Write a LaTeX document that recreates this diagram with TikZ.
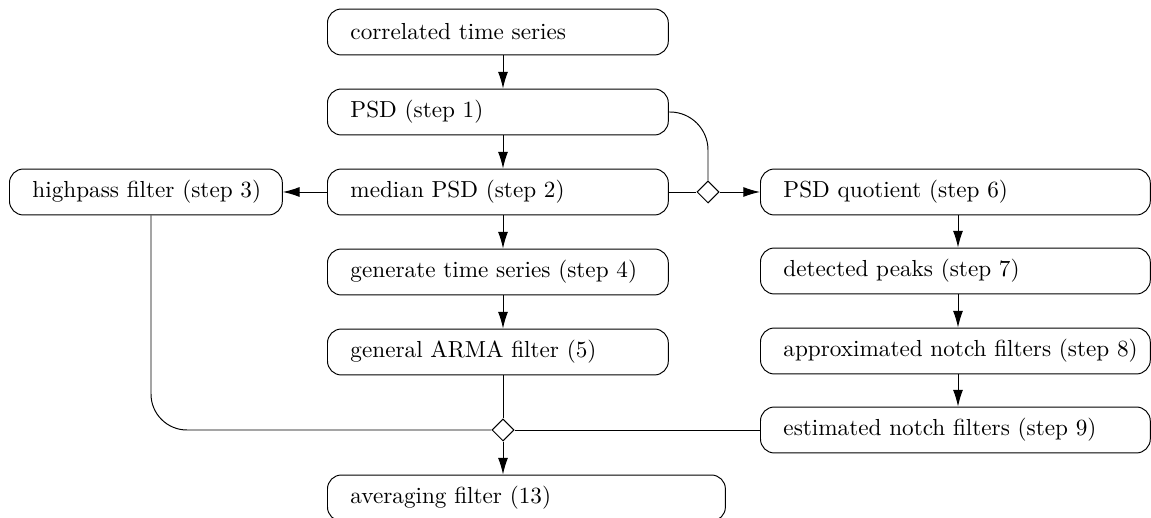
\documentclass[tikz,border=0pt]{standalone}
\usetikzlibrary{arrows.meta,shapes.geometric}
\begin{document}
\begin{tikzpicture}[x=0.431pt,y=-0.431pt,
  box/.style={draw,rounded corners=6pt,minimum height=19.8pt,inner xsep=9.9pt,inner ysep=0pt,anchor=west,align=left,font=\normalsize},
  lbox/.style={box,text width=127.1pt},
  rbox/.style={box,text width=148.2pt},
  dia/.style={draw,diamond,fill=white,minimum width=9.5pt,minimum height=9.5pt,inner sep=0pt},
  arr/.style={-{Latex[length=7.2pt,width=4.3pt]}},
  line width=0.42pt]
\useasboundingbox (0,0) rectangle (1151,518);
\coordinate (lx) at (503,0);
\coordinate (rx) at (958,0);
\coordinate (hx) at (151,0);
\node[lbox] (corr) at (327,32) {correlated time series};
\node[lbox] (psd) at (327,112) {PSD (step 1)};
\node[lbox] (med) at (327,192) {median PSD (step 2)};
\node[lbox] (gen) at (327,272) {generate time series (step 4)};
\node[lbox] (arma) at (327,352) {general ARMA filter (5)};
\node[box,text width=151.7pt] (avg) at (327,498) {averaging filter (13)};
\node[box,text width=97.8pt] (hp) at (9,192) {\mbox{highpass filter (step 3)}};
\node[rbox] (quot) at (760,192) {PSD quotient (step 6)};
\node[rbox] (peak) at (760,271) {detected peaks (step 7)};
\node[rbox] (appr) at (760,351) {\mbox{approximated notch filters (step 8)}};
\node[rbox] (est) at (760,430) {estimated notch filters (step 9)};
\node[dia] (d1) at (708,192) {};
\node[dia] (d2) at (503,430) {};
\draw[arr] (corr.south -| lx) -- (psd.north -| lx);
\draw[arr] (psd.south -| lx) -- (med.north -| lx);
\draw[arr] (med.south -| lx) -- (gen.north -| lx);
\draw[arr] (gen.south -| lx) -- (arma.north -| lx);
\draw (arma.south -| lx) -- (d2.north);
\draw[arr] (d2.south) -- (avg.north -| lx);
\draw[rounded corners=15.5pt] (hp.south -| hx) |- (d2.west);
\draw (est.west) -- (d2.east);
\draw[arr] (med.west) -- (hp.east);
\draw (med.east) -- (d1.west);
\draw[arr] (d1.east) -- (quot.west);
\draw[rounded corners=16.4pt] (psd.east) -| (d1.north);
\draw[arr] (quot.south -| rx) -- (peak.north -| rx);
\draw[arr] (peak.south -| rx) -- (appr.north -| rx);
\draw[arr] (appr.south -| rx) -- (est.north -| rx);
\end{tikzpicture}
\end{document}
